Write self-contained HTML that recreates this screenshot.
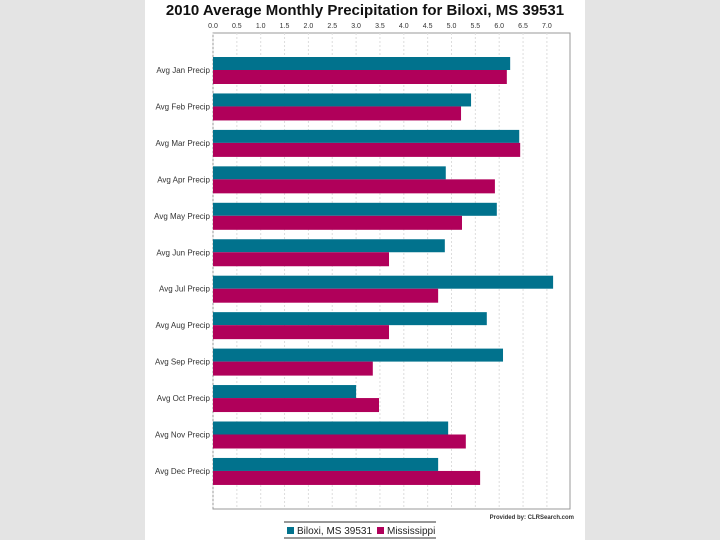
<!DOCTYPE html>
<html><head><style>
body{margin:0;width:720px;height:540px;background:#e4e4e4;overflow:hidden;font-family:"Liberation Sans",sans-serif}
#panel{position:absolute;left:145px;top:0;width:440px;height:540px;background:#fff}
</style></head><body>
<div id="panel"></div>
<svg id="c" width="720" height="540" style="position:absolute;left:0;top:0"></svg>
<script>
const categories=["Avg Jan Precip","Avg Feb Precip","Avg Mar Precip","Avg Apr Precip","Avg May Precip","Avg Jun Precip","Avg Jul Precip","Avg Aug Precip","Avg Sep Precip","Avg Oct Precip","Avg Nov Precip","Avg Dec Precip"];
const biloxi=[6.23,5.41,6.42,4.88,5.95,4.86,7.13,5.74,6.08,3.0,4.93,4.72];
const mississippi=[6.16,5.2,6.44,5.91,5.22,3.69,4.72,3.69,3.35,3.48,5.3,5.6];
const ticks=["0.0","0.5","1.0","1.5","2.0","2.5","3.0","3.5","4.0","4.5","5.0","5.5","6.0","6.5","7.0"];
const seriesNames=["Biloxi, MS 39531","Mississippi"];
const svg=document.getElementById('c');const NS="http://www.w3.org/2000/svg";
function mk(t,a,txt){const e=document.createElementNS(NS,t);for(const k in a)e.setAttribute(k,a[k]);if(txt!=null)e.textContent=txt;svg.appendChild(e);return e;}
const L=213,R=570,T=33,B=509;
const x=v=>L+v*47.7;
const yc=i=>70+i*36.45;
let e=mk('text',{x:365,y:15,'font-size':15,'font-weight':'bold','text-anchor':'middle',fill:'#111'},'2010 Average Monthly Precipitation for Biloxi, MS 39531');

e=mk('rect',{x:L,y:T,width:R-L,height:B-T,fill:'#fff',stroke:'#999'});

ticks.forEach(t=>{const v=parseFloat(t);
 e=mk('line',{x1:x(v),x2:x(v),y1:T,y2:B,stroke:'#ddd','stroke-dasharray':'2,2'});
 
 e=mk('text',{x:x(v),y:28,'font-size':7,'text-anchor':'middle',fill:'#333'},t);
 });
categories.forEach((c,i)=>{
 e=mk('rect',{x:L,y:yc(i)-13,width:x(biloxi[i])-L,height:13,fill:'#01728d'});
 
 e=mk('rect',{x:L,y:yc(i),width:x(mississippi[i])-L,height:14,fill:'#b0005a'});
 
 e=mk('text',{x:210,y:yc(i)+3,'font-size':8,'text-anchor':'end',fill:'#333'},c);
 });
e=mk('text',{x:574,y:519,'font-size':6,'font-weight':'bold','text-anchor':'end',fill:'#333'},'Provided by: CLRSearch.com');

mk('line',{x1:284,x2:436,y1:522,y2:522,stroke:'#333'});
mk('line',{x1:284,x2:436,y1:538,y2:538,stroke:'#333'});
e=mk('rect',{x:287,y:527,width:7,height:7,fill:'#01728d'});
e=mk('text',{x:297,y:534,'font-size':10,fill:'#222'},seriesNames[0]);
e=mk('rect',{x:377,y:527,width:7,height:7,fill:'#b0005a'});
e=mk('text',{x:387,y:534,'font-size':10,fill:'#222'},seriesNames[1]);
</script>
</body></html>
